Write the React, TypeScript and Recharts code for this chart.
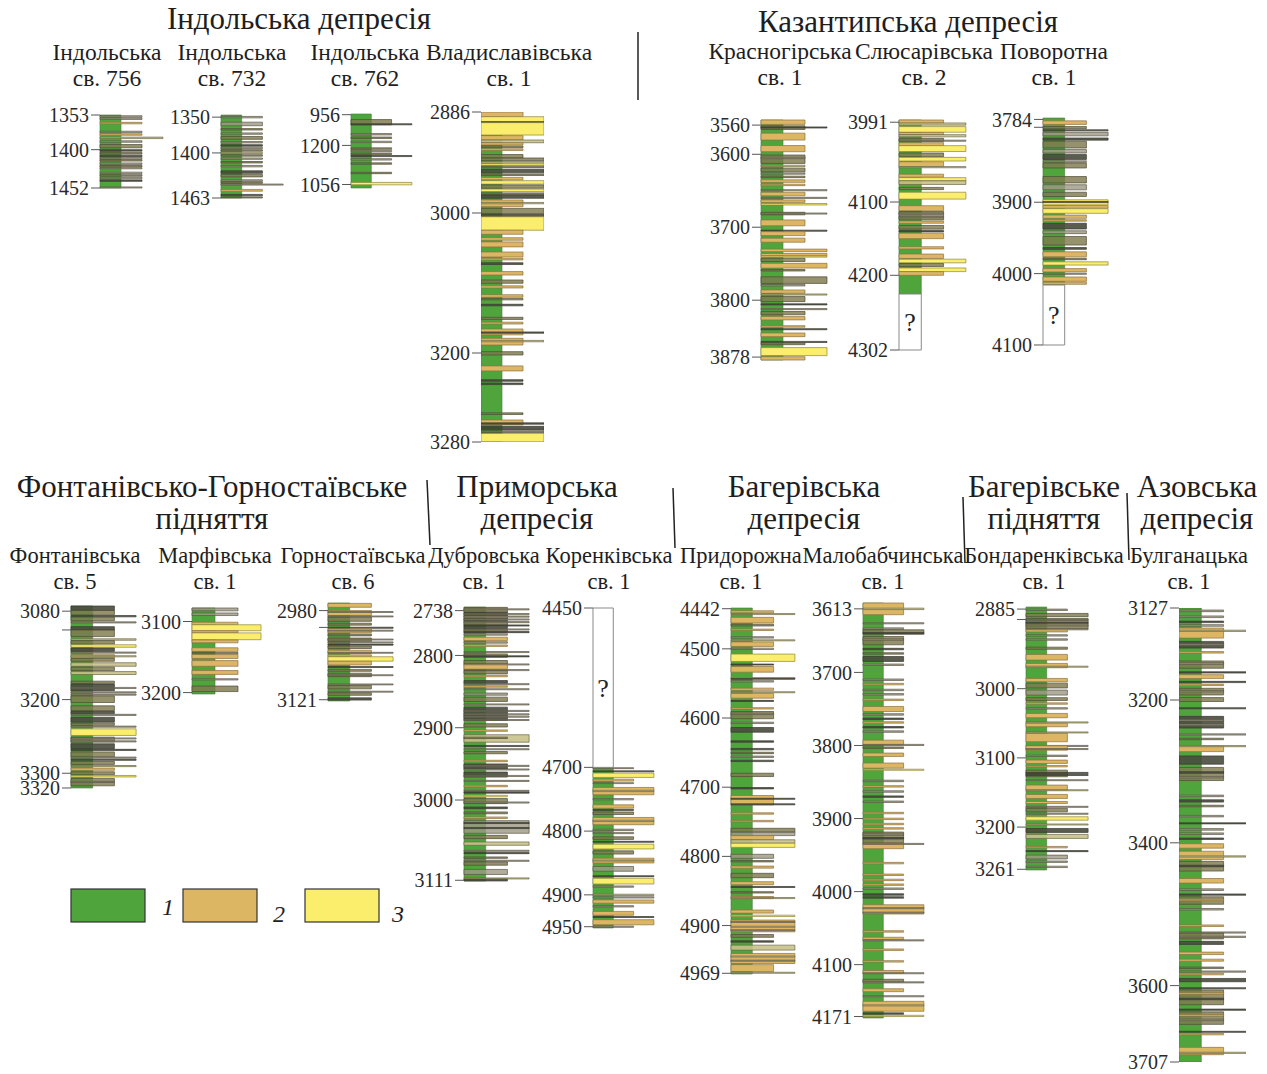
import React from 'react';
import { ComposedChart, XAxis, YAxis, ReferenceArea } from 'recharts';

// Lithology codes: g – clay (1), t – silty sandstone (2), y – sandstone (3),
// o – interbedded clay/silt, d – dark thin beds, s – grey siltstone, k – pale siltstone
type Lith = 'g' | 't' | 'y' | 'o' | 'd' | 's' | 'k';
// [top depth, bottom depth, lithology, reach class]
type Layer = [number, number, Lith, number];

const SERIF = '"Liberation Serif", "Times New Roman", serif';

const LITH_STYLE: Record<Lith, { fill: string; opacity: number; stroke: string }> = {
  g: { fill: '#4fa53c', opacity: 1, stroke: '#46783a' },
  t: { fill: '#ddb664', opacity: 1, stroke: '#8a7142' },
  y: { fill: '#fbee6c', opacity: 1, stroke: '#8c8342' },
  o: { fill: '#7f7a4e', opacity: 0.82, stroke: '#4f4a36' },
  d: { fill: '#4a4b3e', opacity: 0.9, stroke: '#3a3a30' },
  s: { fill: '#9d9985', opacity: 0.8, stroke: '#5a5646' },
  k: { fill: '#c8c28a', opacity: 0.9, stroke: '#6c6746' },
};

// ---------------- Top row: Індольська депресія ----------------
const IND756_TICKS = [1353, 1400, 1452];
const IND756_LAYERS: Layer[] = [
  [1354, 1356, 's', 2], [1357, 1359, 's', 2], [1363, 1365, 't', 2], [1375, 1377, 's', 2],
  [1378.5, 1380.5, 't', 2], [1383, 1385, 'k', 3], [1388, 1390, 's', 2], [1393, 1397.5, 'o', 2],
  [1400, 1402, 'd', 2], [1404, 1406, 'o', 2], [1407.5, 1409.5, 'd', 2], [1410.5, 1412.5, 's', 2],
  [1413.5, 1415.5, 'o', 2], [1418, 1420, 's', 2], [1421.5, 1423.5, 'o', 2], [1424.5, 1426, 's', 2],
  [1430.5, 1432.5, 's', 2], [1434, 1436, 'o', 2], [1437.5, 1439.5, 's', 2], [1441, 1443, 'd', 2],
  [1450.5, 1452, 's', 2],
];

const IND732_TICKS = [1350, 1400, 1463];
const IND732_LAYERS: Layer[] = [
  [1349, 1351, 's', 2], [1357, 1362, 's', 2], [1366, 1368, 'o', 2], [1372, 1374, 's', 2],
  [1377, 1381, 'o', 2], [1384, 1386, 's', 2], [1388.5, 1390.5, 'd', 2], [1392, 1394, 's', 2],
  [1395.5, 1397.5, 'o', 2], [1399, 1401, 'k', 2], [1402.5, 1404.5, 'o', 2], [1407, 1409, 's', 2],
  [1412, 1414, 'o', 2], [1417.5, 1419.5, 's', 2], [1425, 1428.5, 'd', 2], [1430, 1433.5, 'o', 2],
  [1437.5, 1439.5, 's', 2], [1440.5, 1442.5, 'o', 2], [1443.5, 1445, 's', 3], [1451, 1453.5, 't', 2],
  [1458, 1460, 'd', 2], [1461.5, 1463, 'o', 2],
];

const IND762_TICKS = [956, 1000, 1056];
const IND762_TICK_LABELS = ['956', '1200', '1056'];
const IND762_LAYERS: Layer[] = [
  [963, 970.5, 'o', 2], [969, 970.5, 'd', 3], [983, 985, 's', 2], [988, 990, 'o', 2],
  [994, 996, 's', 2], [1003.5, 1005.5, 'o', 2], [1007, 1009, 's', 2], [1011, 1013, 'o', 2],
  [1014.5, 1016, 'd', 3], [1019, 1021, 's', 2], [1025, 1027, 'o', 2], [1038.5, 1040.5, 'o', 2],
  [1053, 1056.5, 'y', 3],
];

const VLAD_TICKS = [2886, 3000, 3200, 3280];
const VLAD_LAYERS: Layer[] = [
  [2886, 2891.3, 't', 2], [2891.3, 2897, 'y', 3], [2897, 2898, 'd', 3], [2898, 2912, 'y', 3],
  [2912.7, 2917.6, 't', 2], [2917.6, 2920.7, 'k', 3], [2920.7, 2923.2, 't', 2], [2924.3, 2926.3, 'o', 2],
  [2927.6, 2929.5, 't', 2], [2934, 2937.9, 'o', 2], [2937.9, 2940.8, 'o', 3], [2941.8, 2943.6, 'k', 3],
  [2944.4, 2946.3, 'y', 3], [2947.2, 2949.1, 'o', 3], [2950.9, 2954.7, 'd', 3], [2956, 2957.7, 'o', 3],
  [2959.8, 2962.6, 't', 2], [2963.5, 2967.4, 'y', 3], [2968.3, 2972.1, 'o', 3], [2973, 2975.8, 'y', 3],
  [2977.3, 2979, 'o', 3], [2979.7, 2983.4, 'd', 3], [2985.3, 2992.9, 't', 2], [2988.1, 2989.6, 'k', 3],
  [2994.8, 3000.6, 'o', 3], [3001.9, 3005.4, 'd', 3], [3005.4, 3024.6, 'y', 3], [3024.6, 3030.4, 't', 2],
  [3035.3, 3038.9, 't', 2], [3041.3, 3048.4, 't', 2], [3055.7, 3062.9, 't', 2], [3064.7, 3067, 't', 2],
  [3071.1, 3073.6, 'd', 2], [3083.7, 3088.6, 't', 2], [3095.7, 3100.4, 'o', 2], [3104.1, 3107.1, 't', 2],
  [3116.7, 3120.3, 't', 2], [3122, 3124.1, 'o', 2], [3130.4, 3132.6, 'd', 2], [3149, 3152, 'o', 2],
  [3156, 3158.6, 't', 2], [3165.7, 3174.1, 't', 2], [3169.9, 3171.7, 'd', 3], [3179, 3188.6, 't', 2],
  [3182, 3184, 'k', 3], [3198.1, 3201.8, 'o', 2], [3211.6, 3216.1, 't', 2], [3224, 3225.4, 'd', 2],
  [3227, 3228.4, 'd', 2], [3253.8, 3255.3, 'o', 2], [3260.2, 3264.7, 't', 2], [3262.8, 3264, 'd', 3],
  [3265.9, 3267, 'd', 3], [3267.7, 3269.2, 'd', 3], [3270, 3271.5, 'o', 3], [3272.3, 3279.8, 'y', 3],
];

// ---------------- Top row: Казантипська депресія ----------------
const KRASN_TICKS = [3560, 3600, 3700, 3800, 3878];
const KRASN_LAYERS: Layer[] = [
  [3553, 3559, 't', 2], [3561, 3566, 'o', 2], [3562.5, 3564, 'd', 3], [3571, 3580.5, 't', 2],
  [3588, 3596.5, 't', 2], [3601, 3612.5, 'o', 2], [3604, 3606, 's', 2], [3615, 3617, 'k', 2],
  [3619, 3624, 'o', 2], [3625.5, 3627.3, 's', 2], [3630, 3632, 'o', 2], [3635, 3638.5, 't', 2],
  [3641, 3643, 't', 2], [3648.5, 3650, 's', 3], [3652, 3657, 't', 2], [3659, 3660.5, 's', 3],
  [3662.5, 3666, 't', 2], [3667.5, 3669.5, 'y', 3], [3679.5, 3683, 'o', 2], [3680.5, 3682, 's', 3],
  [3690, 3698, 't', 2], [3704, 3705.5, 'd', 3], [3706, 3711.5, 't', 2], [3715, 3720.5, 't', 2],
  [3730, 3733.5, 't', 3], [3736, 3739, 't', 3], [3739.5, 3741, 'y', 3], [3742.5, 3747, 'o', 2],
  [3749.5, 3756, 't', 3], [3758, 3760, 'o', 2], [3768, 3777, 'o', 3], [3778.5, 3780.5, 's', 2],
  [3786, 3790.5, 't', 2], [3791.5, 3793, 'k', 3], [3795, 3802, 'o', 2], [3805, 3806.5, 'd', 3],
  [3811.5, 3813, 's', 3], [3815.5, 3820, 'o', 2], [3822.5, 3827, 't', 2], [3835, 3837, 't', 2],
  [3839, 3840.5, 'd', 3], [3845, 3850, 't', 2], [3856.5, 3858, 'd', 3], [3858.5, 3861, 'o', 2],
  [3865, 3876, 'y', 3], [3877.5, 3882, 't', 2],
];

const SLYUS_TICKS = [3991, 4100, 4200, 4302];
const SLYUS_GAP: [number, number] = [4225.6, 4302];
const SLYUS_LAYERS: Layer[] = [
  [3988, 3992.5, 't', 2], [3992, 3995, 'k', 3], [3997, 4004.7, 'y', 3], [4005, 4008, 't', 2],
  [4008, 4011, 'k', 3], [4013, 4017.5, 'o', 2], [4015.5, 4017, 's', 3], [4019, 4023, 't', 2],
  [4023, 4031, 'y', 3], [4033, 4038, 'o', 2], [4039, 4044, 'y', 3], [4045, 4051.6, 't', 2],
  [4051.6, 4053.2, 'k', 3], [4062, 4066, 't', 2], [4066.7, 4071, 'y', 3], [4071, 4076, 'k', 3],
  [4080, 4083, 'o', 2], [4086.6, 4096, 'y', 3], [4105, 4112, 't', 2], [4113, 4124.5, 'o', 2],
  [4115, 4116.5, 's', 2], [4120, 4121.5, 's', 2], [4126, 4129, 't', 2], [4132, 4137, 'o', 2],
  [4139, 4140.8, 'd', 2], [4142.5, 4150, 't', 2], [4161, 4164, 't', 2], [4171, 4177, 't', 2],
  [4178, 4183, 'y', 3], [4184, 4188, 'o', 2], [4190, 4195, 'y', 3], [4195, 4200, 't', 2],
];

const POVOR_TICKS = [3784, 3795, 3900, 4000, 4100];
const POVOR_TICK_LABELS = ['3784', '', '3900', '4000', '4100'];
const POVOR_GAP: [number, number] = [4016, 4100];
const POVOR_LAYERS: Layer[] = [
  [3786, 3791, 't', 2], [3794, 3797, 'o', 2], [3798.5, 3800, 'd', 3], [3802, 3807, 's', 3],
  [3810, 3813, 'd', 3], [3814.5, 3824, 'o', 2], [3826, 3831, 's', 2], [3833, 3840, 'd', 2],
  [3842, 3844, 's', 2], [3845, 3852, 'o', 2], [3864, 3873, 'o', 2], [3875.5, 3882.6, 's', 2],
  [3886, 3892, 'o', 2], [3896.6, 3903.7, 'y', 3], [3899, 3900.5, 'd', 3], [3904.7, 3908.4, 't', 3],
  [3909, 3915.5, 'y', 3], [3918, 3922.5, 't', 2], [3924.5, 3926.5, 't', 2], [3929.5, 3937.5, 'd', 2],
  [3940, 3944, 's', 2], [3948, 3960, 'o', 2], [3963.5, 3966, 'd', 2], [3969.5, 3976.5, 't', 2],
  [3978.5, 3980.5, 'o', 2], [3983.5, 3988, 'y', 3], [3993, 3997.6, 't', 2], [3999.5, 4001, 's', 2],
  [4004.7, 4010.7, 't', 2], [4012, 4015, 't', 2],
];

// ---------------- Bottom row ----------------
const FONT_TICKS = [3080, 3105.5, 3200, 3300, 3320];
const FONT_TICK_LABELS = ['3080', '', '3200', '3300', '3320'];
const FONT_LAYERS: Layer[] = [
  [3073, 3079, 'd', 2], [3079, 3085, 'o', 2], [3086, 3087.7, 'd', 3], [3088, 3093, 'o', 2],
  [3094.5, 3096, 's', 3], [3101, 3105.5, 'd', 2], [3105.5, 3114.5, 'o', 2], [3117.5, 3119.5, 'k', 3],
  [3120, 3124.7, 'o', 2], [3125.6, 3129, 'y', 3], [3130, 3134.6, 'd', 2], [3135.5, 3137, 's', 3],
  [3139, 3143.5, 't', 2], [3140.5, 3142, 'k', 3], [3144, 3148, 'o', 2], [3150, 3154.8, 'k', 3],
  [3156, 3160.5, 'o', 2], [3162, 3166, 'k', 3], [3175, 3178, 'o', 2], [3179, 3188, 'd', 2],
  [3183.5, 3185, 's', 3], [3189.5, 3191, 's', 3], [3192.5, 3194, 's', 3], [3195, 3204, 'o', 2],
  [3208.5, 3215, 'o', 2], [3216, 3219, 'd', 2], [3220, 3221.5, 's', 3], [3224, 3230.7, 'd', 2],
  [3232, 3235, 'o', 2], [3236, 3237.5, 's', 3], [3239.7, 3248.7, 'y', 3], [3251, 3257.6, 'o', 2],
  [3252, 3253.5, 's', 3], [3256, 3257.5, 's', 3], [3260, 3266.6, 'd', 2], [3267.5, 3269, 'd', 3],
  [3271, 3277.7, 'o', 2], [3278, 3279.5, 's', 3], [3281, 3282.5, 'd', 3], [3284, 3288, 'o', 2],
  [3289.5, 3291, 'k', 3], [3293, 3296, 't', 2], [3298, 3302, 'o', 2], [3303, 3305, 'y', 3],
  [3307, 3317, 'o', 2], [3311, 3312.5, 's', 2],
];

const MARF_TICKS = [3100, 3200];
const MARF_LAYERS: Layer[] = [
  [3081, 3085, 's', 2], [3088, 3091.6, 's', 2], [3101, 3104.6, 't', 2], [3104.6, 3113, 'y', 3],
  [3113, 3116, 't', 2], [3116, 3125.6, 'y', 3], [3126, 3130, 't', 2], [3137, 3142, 't', 2],
  [3143.5, 3145.5, 'o', 2], [3146.5, 3152, 't', 2], [3155, 3163, 't', 2], [3169, 3174.4, 't', 2],
  [3180.5, 3182.3, 's', 2], [3190.8, 3198.6, 'o', 2],
];

const GORN_TICKS = [2980, 3006.6, 3121];
const GORN_TICK_LABELS = ['2980', '', '3121'];
const GORN_LAYERS: Layer[] = [
  [2968.6, 2974.8, 't', 2], [2980, 2987.8, 't', 2], [2981.5, 2983, 's', 3], [2988.5, 2990, 's', 3],
  [2990.5, 2997, 'o', 2], [3000, 3003, 'o', 2], [3006.3, 3008, 'd', 3], [3008.7, 3015, 't', 2],
  [3011, 3012.5, 's', 3], [3017, 3020, 'o', 2], [3023.4, 3028.6, 'o', 2], [3025, 3026.5, 's', 3],
  [3029.5, 3031, 's', 3], [3033, 3034.7, 'd', 3], [3036, 3040, 'o', 2], [3042.7, 3047.9, 't', 2],
  [3046, 3047.5, 's', 3], [3050, 3052.5, 't', 2], [3053, 3060, 'y', 3], [3060, 3066, 't', 2],
  [3068.5, 3070, 'd', 3], [3073, 3076, 'o', 2], [3079, 3084.5, 'o', 2], [3081.5, 3083, 's', 3],
  [3096, 3097.5, 's', 3], [3098.6, 3103.8, 'o', 2], [3107.5, 3109, 's', 3], [3110, 3114, 'o', 2],
  [3118, 3121.6, 'd', 2],
];

const DUBR_TICKS = [2738, 2800, 2900, 3000, 3111];
const DUBR_LAYERS: Layer[] = [
  [2733.5, 2740.3, 'o', 2], [2735.5, 2737, 's', 3], [2740.3, 2745, 'd', 2], [2742, 2743.5, 's', 3],
  [2745, 2749.5, 'o', 2], [2745.5, 2747, 's', 3], [2749.5, 2753, 'd', 2], [2749.5, 2751, 's', 3],
  [2753.2, 2758, 'o', 2], [2753.2, 2754.7, 's', 3], [2757.8, 2759.3, 'd', 3], [2759.5, 2763, 'd', 2],
  [2763.3, 2764.8, 's', 3], [2764.8, 2768, 'o', 2], [2767, 2768.5, 'd', 3], [2770, 2772, 's', 2],
  [2774.8, 2779.4, 't', 2], [2781, 2783, 's', 2], [2785.5, 2787.5, 't', 2], [2794.6, 2796, 's', 3],
  [2797.9, 2802.5, 'o', 2], [2800.5, 2802, 'd', 3], [2807, 2812, 'o', 2], [2811.7, 2813.2, 's', 3],
  [2813, 2819, 't', 2], [2819.5, 2821, 's', 3], [2821, 2825.5, 'o', 2], [2827.5, 2829.5, 't', 2],
  [2834.7, 2838.5, 'd', 2], [2839, 2840.5, 's', 3], [2842, 2844, 't', 2], [2846, 2847.5, 's', 3],
  [2852, 2855, 's', 2], [2857.7, 2863.7, 'o', 2], [2867, 2868.5, 's', 3], [2871.5, 2890, 'd', 2],
  [2876, 2877.5, 's', 3], [2880.7, 2882.2, 's', 3], [2884, 2885.5, 's', 3], [2888.6, 2890, 's', 3],
  [2894.5, 2899, 'o', 2], [2903, 2905, 't', 2], [2909.7, 2920, 'k', 3], [2913, 2915, 'o', 2],
  [2924.5, 2926, 'd', 3], [2929, 2930.5, 's', 3], [2933, 2936, 'o', 2], [2945, 2947, 't', 2],
  [2950, 2957, 'd', 2], [2952, 2953.5, 's', 3], [2957, 2958.5, 's', 3], [2961.3, 2968.2, 'd', 2],
  [2966, 2967.5, 's', 3], [2972.8, 2974.3, 's', 3], [2979.7, 2981.7, 't', 2], [2986.6, 2988, 's', 3],
  [2989, 2990.5, 'd', 3], [2993.5, 2995.5, 'y', 2], [2998, 3005, 'o', 2], [3002.7, 3004.2, 's', 3],
  [3009.6, 3012, 'd', 2], [3016.5, 3019, 'o', 2], [3023.5, 3025.5, 't', 2], [3028.5, 3046, 's', 3],
  [3031, 3032.5, 'd', 3], [3038, 3039.5, 'd', 3], [3048.8, 3053.4, 'o', 2], [3058, 3062.6, 'k', 3],
  [3069.5, 3071, 's', 3], [3072.7, 3074.2, 'd', 3], [3078.7, 3080.7, 'o', 2], [3083.3, 3084.8, 's', 3],
  [3085.6, 3090.2, 'o', 2], [3096, 3103, 's', 2], [3107.7, 3109.2, 'k', 3], [3109.5, 3112, 'd', 2],
];

const KOREN_TICKS = [4450, 4700, 4800, 4900, 4950];
const KOREN_GAP: [number, number] = [4450, 4700];
const KOREN_LAYERS: Layer[] = [
  [4700.5, 4702, 's', 2], [4705.5, 4707, 'd', 3], [4709, 4715.8, 'y', 3], [4718.5, 4721.5, 't', 2],
  [4724, 4725.5, 's', 2], [4731.5, 4743, 't', 3], [4736, 4738, 'k', 3], [4749, 4751, 's', 2],
  [4758.8, 4764, 't', 2], [4766, 4767.5, 'd', 2], [4770, 4774, 'o', 2], [4778.6, 4790, 't', 3],
  [4783, 4785, 'k', 3], [4797, 4799, 's', 2], [4802, 4804, 's', 2], [4809, 4813, 'o', 2],
  [4816, 4817.5, 'd', 3], [4820.5, 4828, 'y', 3], [4831, 4836, 'o', 2], [4842.5, 4850, 't', 3],
  [4845.5, 4847, 'k', 3], [4855.5, 4863, 's', 2], [4870, 4871.5, 'd', 3], [4874, 4883, 'y', 3],
  [4886, 4888, 's', 2], [4899, 4901, 'k', 3], [4903, 4905, 's', 3], [4908, 4913, 't', 3],
  [4917, 4919, 's', 2], [4926, 4932, 't', 2], [4934, 4935.5, 'd', 3], [4939, 4947, 't', 3],
  [4949, 4951, 's', 2],
];

const PRID_TICKS = [4442, 4500, 4600, 4700, 4800, 4900, 4969];
const PRID_LAYERS: Layer[] = [
  [4445, 4448, 't', 2], [4449, 4450.5, 'k', 3], [4454.5, 4462.7, 't', 2], [4464.5, 4467, 'o', 2],
  [4471.5, 4473.5, 't', 2], [4482.5, 4484.5, 's', 2], [4487, 4488.5, 'k', 3], [4490, 4496.5, 't', 2],
  [4499, 4501, 's', 2], [4507.6, 4518.2, 'y', 3], [4522, 4523.5, 'd', 2], [4525.5, 4533.7, 't', 2],
  [4541.5, 4543.2, 'y', 3], [4542.5, 4544, 'd', 3], [4546, 4548, 's', 2], [4556.8, 4560, 't', 2],
  [4562, 4563.5, 'k', 3], [4564.5, 4571.3, 't', 2], [4574.5, 4576, 'd', 2], [4585, 4587, 't', 2],
  [4590.6, 4601, 'o', 2], [4593, 4595, 's', 2], [4606, 4608, 's', 2], [4613.7, 4620.5, 'd', 2],
  [4633, 4635, 'd', 2], [4644, 4646, 'd', 2], [4649.5, 4651.5, 'o', 2], [4655, 4657, 's', 2],
  [4661, 4663, 'd', 2], [4679.8, 4684.6, 'o', 2], [4700.5, 4702.5, 'd', 2], [4712, 4725.6, 't', 2],
  [4716, 4717.5, 'd', 3], [4724, 4725.5, 'd', 3], [4737, 4739, 't', 2], [4748, 4750, 't', 2],
  [4759.4, 4765, 'o', 3], [4765, 4770, 's', 3], [4770, 4776, 't', 2], [4776, 4781, 'k', 3],
  [4781, 4787, 'y', 3], [4797, 4802.8, 's', 2], [4806, 4808, 'o', 2], [4814, 4817, 't', 2],
  [4824.5, 4830.8, 'o', 2], [4836.6, 4841, 't', 2], [4843.5, 4845, 'd', 3], [4851, 4853, 'o', 2],
  [4858, 4861, 't', 2], [4859.5, 4861, 'k', 3], [4877.6, 4882, 't', 2], [4885, 4887, 'y', 3],
  [4892, 4909, 't', 3], [4894, 4895.5, 's', 3], [4901, 4902.5, 'k', 3], [4906, 4907.5, 's', 3],
  [4913, 4917, 'o', 2], [4922, 4924, 'd', 2], [4928.3, 4935.5, 'k', 3], [4940.3, 4954.8, 't', 3],
  [4944, 4945.5, 'k', 3], [4950, 4951.5, 's', 3], [4956.5, 4966.5, 't', 2], [4967.5, 4969, 'k', 3],
];

const MALOB_TICKS = [3613, 3700, 3800, 3900, 4000, 4100, 4171];
const MALOB_LAYERS: Layer[] = [
  [3605, 3621, 't', 2], [3612, 3614, 'k', 3], [3632, 3633.5, 's', 3], [3639, 3641, 's', 2],
  [3641.7, 3647.7, 'o', 3], [3645.5, 3647, 'd', 3], [3650.8, 3662.2, 'o', 2], [3654, 3656, 's', 2],
  [3667, 3669, 'd', 2], [3673, 3675, 'o', 2], [3678.2, 3685, 'd', 2], [3688.5, 3690.5, 's', 2],
  [3709, 3711, 's', 2], [3715, 3717, 't', 2], [3723, 3725, 's', 2], [3729, 3731, 's', 2],
  [3736.5, 3738.5, 't', 2], [3746.6, 3753.5, 't', 2], [3756.5, 3758.5, 's', 2], [3762.5, 3764.5, 'd', 2],
  [3767.5, 3769.5, 't', 2], [3774, 3776, 'd', 2], [3780, 3782, 's', 2], [3792.7, 3799, 't', 2],
  [3798.5, 3800, 's', 3], [3802, 3804, 'o', 2], [3810.4, 3815, 't', 2], [3824, 3831, 't', 2],
  [3832.5, 3834, 'y', 3], [3847.5, 3849.5, 's', 2], [3855, 3857, 't', 2], [3862, 3864, 's', 2],
  [3869, 3871, 'd', 2], [3876, 3878, 's', 2], [3891.5, 3893.5, 't', 2], [3899.5, 3901.5, 't', 2],
  [3906.5, 3908.5, 't', 2], [3912.5, 3914.5, 't', 2], [3918.5, 3933.6, 'o', 2], [3921, 3923, 's', 2],
  [3926, 3928, 'd', 2], [3933.6, 3941.3, 't', 2], [3934, 3935.5, 's', 3], [3960, 3962, 't', 2],
  [3976, 3978, 't', 2], [3983, 3985, 't', 2], [3989.5, 3991.5, 't', 2], [3995, 3997, 's', 2],
  [4003, 4005, 'd', 2], [4007, 4009, 'd', 2], [4018, 4030.7, 't', 3], [4022, 4023.5, 's', 3],
  [4028, 4029.5, 's', 3], [4053.5, 4055.5, 't', 2], [4062.5, 4065.5, 't', 2], [4066, 4067.5, 's', 3],
  [4078.5, 4080.5, 't', 2], [4094.5, 4096.5, 't', 2], [4108, 4112, 't', 2], [4111, 4112.5, 's', 3],
  [4120, 4124, 'o', 2], [4123.5, 4125, 's', 3], [4133, 4137, 't', 2], [4142.5, 4144, 's', 3],
  [4150.2, 4163.8, 't', 3], [4155, 4156.5, 'k', 3], [4166, 4168, 'd', 2], [4169.3, 4171, 'y', 3],
];

const BOND_TICKS = [2885, 2900, 3000, 3100, 3200, 3261];
const BOND_TICK_LABELS = ['2885', '', '3000', '3100', '3200', '3261'];
const BOND_LAYERS: Layer[] = [
  [2885, 2887, 's', 2], [2891.3, 2896, 'o', 3], [2898.5, 2913, 'o', 3], [2900, 2901.5, 's', 3],
  [2904, 2905.5, 'd', 3], [2908, 2909.5, 's', 3], [2913.5, 2915, 's', 3], [2915, 2918, 't', 2],
  [2922, 2924, 's', 2], [2928, 2930, 's', 2], [2940, 2943, 'o', 2], [2950.5, 2958.7, 't', 2],
  [2963.5, 2969.8, 't', 2], [2967.5, 2969, 'k', 3], [2985.2, 2990, 't', 2], [2992, 2999, 'o', 2],
  [3002, 3009.3, 's', 2], [3013, 3017, 'o', 2], [3020.5, 3022.5, 't', 2], [3027.5, 3029.5, 's', 2],
  [3035.8, 3042, 't', 2], [3048, 3049.6, 'k', 3], [3050, 3055, 't', 2], [3062.5, 3064, 'k', 3],
  [3064.7, 3076.7, 't', 2], [3082, 3083.5, 's', 3], [3082.5, 3088.8, 't', 2], [3086.5, 3088, 's', 3],
  [3096, 3098, 's', 2], [3103.2, 3108, 't', 2], [3111, 3113, 't', 2], [3117.7, 3127.3, 'o', 2],
  [3121, 3122.5, 'd', 3], [3124, 3125.5, 'd', 3], [3131.5, 3133, 's', 3], [3139.3, 3146.6, 't', 2],
  [3146, 3147.5, 'k', 3], [3152.8, 3158.6, 't', 2], [3163, 3166, 't', 2], [3170, 3171.5, 's', 3],
  [3173, 3178, 'o', 2], [3180, 3181.5, 's', 3], [3185.1, 3190, 'y', 3], [3195.5, 3197, 'k', 3],
  [3202, 3207.7, 'd', 3], [3210.6, 3216.4, 'k', 3], [3228, 3230, 't', 2], [3234, 3235.5, 'd', 3],
  [3240.5, 3246, 's', 2], [3249, 3251, 's', 2], [3256.5, 3258.5, 's', 2],
];

const BULG_TICKS = [3127, 3200, 3400, 3600, 3707];
const BULG_LAYERS: Layer[] = [
  [3128.6, 3129.9, 's', 2], [3133.3, 3134.6, 's', 2], [3137.4, 3138.6, 'd', 2], [3140.2, 3141.5, 's', 2],
  [3142.9, 3150.9, 't', 2], [3144.6, 3145.6, 'k', 3], [3153.5, 3158.8, 'd', 2], [3155.3, 3156.5, 's', 2],
  [3161.6, 3162.8, 't', 2], [3169, 3174.8, 'o', 2], [3170.4, 3171.7, 's', 2], [3177.6, 3178.6, 'd', 3],
  [3179.9, 3183, 't', 2], [3185.2, 3186.2, 'd', 3], [3187.4, 3188.6, 't', 2], [3190.7, 3196, 'o', 2],
  [3192.4, 3193.6, 's', 2], [3198.1, 3202.1, 'o', 2], [3210.8, 3212.4, 'd', 3], [3222.9, 3239.3, 'd', 2],
  [3227.2, 3229.4, 's', 2], [3233.7, 3235.9, 's', 2], [3247.4, 3249.1, 's', 3], [3253.5, 3255.6, 'o', 2],
  [3264.3, 3272.3, 't', 2], [3263.8, 3265.4, 'k', 3], [3278.3, 3289.9, 'd', 2], [3294.4, 3312.8, 'o', 2],
  [3300.4, 3302.6, 'd', 2], [3307, 3309.1, 's', 2], [3333.2, 3335.4, 's', 2], [3339.8, 3343, 'd', 2],
  [3347.4, 3349.6, 'o', 2], [3361.6, 3363.7, 's', 2], [3372, 3373.5, 'd', 3], [3380.1, 3382.3, 's', 2],
  [3386.1, 3388.3, 's', 2], [3393.3, 3395.3, 'd', 2], [3401.3, 3407.5, 't', 2], [3411.8, 3423.5, 't', 2],
  [3418.3, 3420, 'k', 3], [3426, 3439.6, 'o', 2], [3431.4, 3433.6, 'd', 2], [3450, 3456.4, 't', 2],
  [3464.5, 3466.8, 's', 2], [3471.7, 3473.4, 'd', 3], [3475.6, 3486.1, 'o', 2], [3478.9, 3481, 't', 2],
  [3492, 3494.2, 's', 2], [3515, 3517.2, 't', 2], [3524.8, 3526.5, 's', 3], [3526.5, 3534.6, 'o', 2],
  [3530.8, 3532.5, 's', 3], [3538, 3542.3, 'd', 2], [3553.1, 3556.5, 't', 2], [3563, 3565.8, 't', 2],
  [3574, 3576.2, 'o', 2], [3579.5, 3581.2, 's', 3], [3582.7, 3584.9, 't', 2], [3590, 3594.6, 'd', 3],
  [3603, 3604.5, 'd', 3], [3606, 3626.8, 'o', 2], [3610, 3612.2, 't', 2], [3617.6, 3619.8, 'd', 2],
  [3632.9, 3634.6, 'd', 3], [3636.8, 3654.3, 'o', 2], [3640.5, 3642.7, 't', 2], [3647, 3649.2, 's', 2],
  [3664, 3665.5, 'd', 3], [3666.8, 3669, 't', 2], [3686.5, 3696.8, 't', 2], [3693.3, 3695, 'k', 3],
];

// ---------------- Text ----------------
const GROUP_TITLES: { lines: string[]; x: number; y: number }[] = [
  { lines: ['Індольська депресія'], x: 299, y: 29 },
  { lines: ['Казантипська депресія'], x: 908, y: 32 },
  { lines: ['Фонтанівсько-Горностаївське', 'підняття'], x: 212, y: 497 },
  { lines: ['Приморська', 'депресія'], x: 537, y: 497 },
  { lines: ['Багерівська', 'депресія'], x: 804, y: 497 },
  { lines: ['Багерівське', 'підняття'], x: 1044, y: 497 },
  { lines: ['Азовська', 'депресія'], x: 1197, y: 497 },
];

const SEPARATORS: [number, number, number, number][] = [
  [638, 32, 638, 100],
  [427, 480, 430, 545],
  [673, 488, 675, 548],
  [963, 497, 965, 563],
  [1127, 493, 1129, 560],
];

const LEGEND_ITEMS: { lith: Lith; label: string }[] = [
  { lith: 'g', label: '1' },
  { lith: 't', label: '2' },
  { lith: 'y', label: '3' },
];

interface Well {
  name: string;
  number: string;
  domain: [number, number];
  ticks: number[];
  tickLabels?: string[];
  layers: Layer[];
  gap?: [number, number];
  // placement: [depth, page y] anchors of the depth axis, left edge of the column, px per reach class
  anchors: [number, number][];
  left: number;
  unit: number;
  nameX: number;
  nameY: number;
  nameSize: number;
}

const WELLS: Well[] = [
  { name: 'Індольська', number: 'св. 756', domain: [1353, 1452], ticks: IND756_TICKS, layers: IND756_LAYERS, anchors: [[1353, 115], [1452, 188]], left: 100, unit: 21, nameX: 107, nameY: 60, nameSize: 23.5 },
  { name: 'Індольська', number: 'св. 732', domain: [1347, 1463], ticks: IND732_TICKS, layers: IND732_LAYERS, anchors: [[1347, 115], [1463, 198]], left: 221, unit: 20.7, nameX: 232, nameY: 60, nameSize: 23.5 },
  { name: 'Індольська', number: 'св. 762', domain: [955, 1061], ticks: IND762_TICKS, tickLabels: IND762_TICK_LABELS, layers: IND762_LAYERS, anchors: [[955, 114], [1061, 188]], left: 351, unit: 20.3, nameX: 365, nameY: 60, nameSize: 23.5 },
  { name: 'Владиславівська', number: 'св. 1', domain: [2886, 3280], ticks: VLAD_TICKS, layers: VLAD_LAYERS, anchors: [[2886, 112], [3000, 213], [3200, 353], [3280, 442]], left: 481, unit: 21, nameX: 509, nameY: 60, nameSize: 23.5 },
  { name: 'Красногірська', number: 'св. 1', domain: [3553, 3882], ticks: KRASN_TICKS, layers: KRASN_LAYERS, anchors: [[3553, 120], [3882, 360]], left: 761, unit: 22, nameX: 780, nameY: 59, nameSize: 23.5 },
  { name: 'Слюсарівська', number: 'св. 2', domain: [3988, 4302], ticks: SLYUS_TICKS, layers: SLYUS_LAYERS, gap: SLYUS_GAP, anchors: [[3988, 120], [4302, 350]], left: 899, unit: 22.3, nameX: 924, nameY: 59, nameSize: 23.5 },
  { name: 'Поворотна', number: 'св. 1', domain: [3782, 4100], ticks: POVOR_TICKS, tickLabels: POVOR_TICK_LABELS, layers: POVOR_LAYERS, gap: POVOR_GAP, anchors: [[3782, 118], [4100, 345]], left: 1043, unit: 21.7, nameX: 1054, nameY: 59, nameSize: 23.5 },
  { name: 'Фонтанівська', number: 'св. 5', domain: [3073, 3320], ticks: FONT_TICKS, tickLabels: FONT_TICK_LABELS, layers: FONT_LAYERS, anchors: [[3073, 606], [3320, 788]], left: 71, unit: 21.7, nameX: 75, nameY: 563, nameSize: 22.5 },
  { name: 'Марфівська', number: 'св. 1', domain: [3081, 3202], ticks: MARF_TICKS, layers: MARF_LAYERS, anchors: [[3081, 608], [3202, 694]], left: 192, unit: 23, nameX: 215, nameY: 563, nameSize: 22.5 },
  { name: 'Горностаївська', number: 'св. 6', domain: [2968, 3123], ticks: GORN_TICKS, tickLabels: GORN_TICK_LABELS, layers: GORN_LAYERS, anchors: [[2968, 603], [3123, 701]], left: 328, unit: 21.7, nameX: 353, nameY: 563, nameSize: 22.5 },
  { name: 'Дубровська', number: 'св. 1', domain: [2733, 3112], ticks: DUBR_TICKS, layers: DUBR_LAYERS, anchors: [[2733, 607], [3112, 881]], left: 464, unit: 21.7, nameX: 484, nameY: 563, nameSize: 22.5 },
  { name: 'Коренківська', number: 'св. 1', domain: [4450, 4952], ticks: KOREN_TICKS, layers: KOREN_LAYERS, gap: KOREN_GAP, anchors: [[4450, 608], [4952, 928]], left: 593, unit: 20.3, nameX: 609, nameY: 563, nameSize: 22.5 },
  { name: 'Придорожна', number: 'св. 1', domain: [4441, 4970], ticks: PRID_TICKS, layers: PRID_LAYERS, anchors: [[4441, 608], [4970, 974]], left: 731, unit: 21.3, nameX: 741, nameY: 563, nameSize: 22.5 },
  { name: 'Малобабчинська', number: 'св. 1', domain: [3605, 4173], ticks: MALOB_TICKS, layers: MALOB_LAYERS, anchors: [[3605, 603], [4173, 1018]], left: 863, unit: 20.3, nameX: 883, nameY: 563, nameSize: 22.5 },
  { name: 'Бондаренківська', number: 'св. 1', domain: [2882, 3262], ticks: BOND_TICKS, tickLabels: BOND_TICK_LABELS, layers: BOND_LAYERS, anchors: [[2882, 607], [3262, 870]], left: 1026, unit: 20.7, nameX: 1044, nameY: 563, nameSize: 22.5 },
  { name: 'Булганацька', number: 'св. 1', domain: [3127, 3707], ticks: BULG_TICKS, layers: BULG_LAYERS, anchors: [[3127, 608], [3200, 700], [3707, 1062]], left: 1179, unit: 22.3, nameX: 1189, nameY: 563, nameSize: 22.5 },
];

const AXIS_W = 70;
const PAD = 12;

// One linear piece of a well's depth axis, drawn as its own small chart.
function WellSegment({ well, from, to, last, multi }: {
  well: Well;
  from: [number, number];
  to: [number, number];
  last: boolean;
  multi: boolean;
}) {
  const { domain, ticks, tickLabels, layers, gap, left, unit } = well;
  const d0 = from[0];
  const d1 = to[0];
  const width = AXIS_W + unit * 3 + 4;
  const height = to[1] - from[1] + PAD * 2;
  const segTicks = ticks.filter((t) => t >= d0 && (last ? t <= d1 : t < d1));
  const colTop = gap && gap[0] === domain[0] ? gap[1] : domain[0];
  const colBottom = gap && gap[1] === domain[1] ? gap[0] : domain[1];
  const labelFor = (v: number) => {
    const i = ticks.indexOf(v);
    return tickLabels ? tickLabels[i] : String(v);
  };
  const overflow = multi ? 'hidden' : 'visible';
  return (
    <div style={{ position: 'absolute', left: left - AXIS_W, top: from[1] - PAD }}>
      <ComposedChart
        width={width}
        height={height}
        margin={{ top: PAD, bottom: PAD, left: 0, right: 4 }}
        data={[{ x: 0, d: d0 }, { x: 3, d: d1 }]}
      >
        <XAxis type="number" dataKey="x" domain={[0, 3]} hide allowDataOverflow />
        <YAxis
          type="number"
          dataKey="d"
          domain={[d0, d1]}
          reversed
          allowDataOverflow
          ticks={segTicks}
          interval={0}
          width={AXIS_W}
          axisLine={false}
          tickLine={{ stroke: '#555', strokeWidth: 1 }}
          tickSize={9}
          tickMargin={2}
          tick={{ fontFamily: SERIF, fontSize: 20, fill: '#2a2a2a' }}
          tickFormatter={labelFor}
        />
        <ReferenceArea
          x1={0}
          x2={1}
          y1={Math.max(colTop, d0)}
          y2={Math.min(colBottom, d1)}
          fill={LITH_STYLE.g.fill}
          fillOpacity={1}
          stroke={LITH_STYLE.g.stroke}
          strokeWidth={0.6}
          ifOverflow={overflow}
        />
        {layers
          .filter((l) => l[1] > d0 && l[0] < d1)
          .map((l, i) => {
            const st = LITH_STYLE[l[2]];
            return (
              <ReferenceArea
                key={i}
                x1={0}
                x2={l[3]}
                y1={l[0]}
                y2={l[1]}
                fill={st.fill}
                fillOpacity={st.opacity}
                stroke={st.stroke}
                strokeWidth={0.7}
                ifOverflow={overflow}
              />
            );
          })}
        {gap && gap[1] > d0 && gap[0] < d1 && (
          <ReferenceArea
            x1={0}
            x2={1}
            y1={gap[0]}
            y2={gap[1]}
            fill="#ffffff"
            fillOpacity={1}
            stroke="#8a8a8a"
            strokeWidth={1}
            ifOverflow={overflow}
            label={{ value: '?', position: 'center', fontFamily: SERIF, fontSize: 26, fill: '#222' }}
          />
        )}
      </ComposedChart>
    </div>
  );
}

function WellColumn({ well }: { well: Well }) {
  const { anchors } = well;
  const multi = anchors.length > 2;
  return (
    <>
      {anchors.slice(0, -1).map((a, i) => (
        <WellSegment
          key={i}
          well={well}
          from={a}
          to={anchors[i + 1]}
          last={i === anchors.length - 2}
          multi={multi}
        />
      ))}
    </>
  );
}

export default function App() {
  return (
    <div
      style={{
        position: 'absolute',
        left: 0,
        top: 0,
        width: 1267,
        height: 1074,
        background: '#ffffff',
        overflow: 'hidden',
      }}
    >
      <svg width={1267} height={1074} style={{ position: 'absolute', left: 0, top: 0 }}>
        {GROUP_TITLES.map((g, i) =>
          g.lines.map((line, j) => (
            <text
              key={`${i}-${j}`}
              x={g.x}
              y={g.y + j * 32}
              textAnchor="middle"
              fontFamily={SERIF}
              fontSize={31}
              fill="#1e1e1e"
            >
              {line}
            </text>
          )),
        )}
        {WELLS.map((w, i) => (
          <g key={i}>
            <text x={w.nameX} y={w.nameY} textAnchor="middle" fontFamily={SERIF} fontSize={w.nameSize} fill="#1e1e1e">
              {w.name}
            </text>
            <text x={w.nameX} y={w.nameY + 26} textAnchor="middle" fontFamily={SERIF} fontSize={w.nameSize} fill="#1e1e1e">
              {w.number}
            </text>
          </g>
        ))}
        {SEPARATORS.map((s, i) => (
          <line key={i} x1={s[0]} y1={s[1]} x2={s[2]} y2={s[3]} stroke="#222" strokeWidth={1.5} />
        ))}
        {LEGEND_ITEMS.map((item, i) => {
          const x = [71, 183, 305][i];
          const lx = [168, 279, 398][i];
          const ly = [915, 922, 922][i];
          return (
            <g key={item.lith}>
              <rect x={x} y={889} width={74} height={33} fill={LITH_STYLE[item.lith].fill} stroke="#333" strokeWidth={1.2} />
              <text x={lx} y={ly} textAnchor="middle" fontFamily={SERIF} fontStyle="italic" fontSize={24} fill="#222">
                {item.label}
              </text>
            </g>
          );
        })}
      </svg>
      {WELLS.map((w, i) => (
        <WellColumn key={i} well={w} />
      ))}
    </div>
  );
}
